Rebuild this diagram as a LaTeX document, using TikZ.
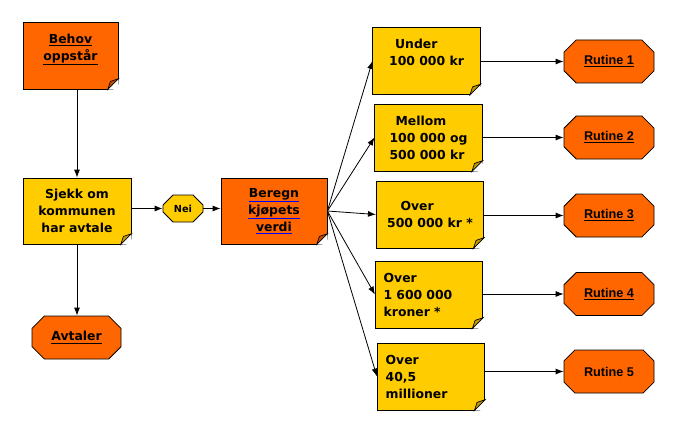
\documentclass[tikz,border=0pt]{standalone}
\usepackage{fontspec}
\setmainfont{DejaVu Sans}
\newfontfamily\arialfont{Liberation Sans}
\usetikzlibrary{shapes.misc,arrows.meta}
\definecolor{orng}{HTML}{FF6600}
\definecolor{yell}{HTML}{FFCC00}
\newcommand{\blueul}[1]{{\color{blue}\underline{\color{black}#1}}}

\begin{document}
\begin{tikzpicture}[x=0.75pt,y=-0.75pt,line width=0.6pt,
    every node/.style={font=\bfseries\fontsize{9.3}{12.75}\selectfont},
    note/.style={draw, fill=yell, minimum width=80.5pt, minimum height=50.25pt, align=left, inner sep=2pt},
    onote/.style={note, fill=orng, align=center},
    octa/.style={draw, fill=orng, chamfered rectangle, chamfered rectangle xsep=9pt, inner sep=1pt},
    rutine/.style={octa, minimum width=67.5pt, minimum height=32.25pt,
      font=\arialfont\bfseries\fontsize{9.5}{11}\selectfont},
    arr/.style={-{Latex[length=6pt,width=4.5pt]}}]
  \useasboundingbox (0,0) rectangle (691,424);
  % left column
  \node[onote, minimum width=71.25pt] (behov) at (70.5,55.5) {\underline{Behov}\\\underline{oppstår}\\\phantom{x}};
  \node[note, align=center, minimum width=81pt, minimum height=49.5pt] (sjekk) at (77,211) {Sjekk om\\kommunen\\har avtale};
  \node[octa, minimum width=66.75pt, minimum height=32.25pt] (avtaler) at (76.5,337.5) {\underline{Avtaler}};
  \node[octa, fill=yell, chamfered rectangle xsep=5pt, minimum width=30pt, minimum height=20.25pt,
    font=\bfseries\fontsize{7.3}{8}\selectfont] (nei) at (183,208.5) {Nei};
  \node[onote, minimum width=79.5pt, minimum height=49.5pt] (beregn) at (274,211) {\blueul{Beregn}\\\blueul{kjøpets}\\\blueul{verdi}};
  % value boxes
  \node[note] (under) at (426.5,61) {\hspace{4.5pt}Under\\100 000 kr\\\phantom{x}};
  \node[note] (mellom) at (428.5,137.5) {\hspace{4.5pt}Mellom\\100 000 og\\500 000 kr};
  \node[note] (over500) at (430,214.5) {\hspace{10pt}Over\\500 000 kr *};
  \node[note, text width=68pt] (over16) at (429,294.5) {Over\\1 600 000\\kroner *};
  \node[note, text width=68pt] (over405) at (431,376.5) {Over\\40,5\\millioner};
  % routines
  \node[rutine] (rutine1) at (609,61.5) {\underline{Rutine 1}};
  \node[rutine] (rutine2) at (609,137.5) {\underline{Rutine 2}};
  \node[rutine] (rutine3) at (609,215.5) {\underline{Rutine 3}};
  \node[rutine] (rutine4) at (609,294) {\underline{Rutine 4}};
  \node[rutine] (rutine5) at (609,371.5) {Rutine 5};
  % folded corners
  \foreach \n/\c in {behov/orng,sjekk/yell,beregn/orng,under/yell,mellom/yell,over500/yell,over16/yell,over405/yell}{
    \fill[white] ([xshift=-8pt]\n.south east) -- ([shift={(0.5pt,-0.5pt)}]\n.south east) -- ([yshift=8pt]\n.south east) -- cycle;
    \draw[line width=0.5pt, fill=\c!75!black] ([xshift=-8pt]\n.south east) -- ([yshift=8pt]\n.south east)
      -- ([shift={(-6pt,6pt)}]\n.south east) -- cycle;
  }
  % connectors
  \draw[arr] (behov.south -| sjekk.north) -- (sjekk.north);
  \draw[arr] (sjekk.south) -- (sjekk.south |- avtaler.north);
  \draw[arr] (sjekk.east |- nei.west) -- (nei.west);
  \draw[arr] (nei.east) -- (nei.east -| beregn.west);
  \foreach \v in {under,mellom,over500,over16,over405}
    \draw[arr] (beregn.east) -- (\v.west);
  \foreach \v/\r in {under/rutine1,mellom/rutine2,over500/rutine3,over16/rutine4,over405/rutine5}
    \draw[arr] (\v.east |- \r.west) -- (\r.west);
\end{tikzpicture}
\end{document}
